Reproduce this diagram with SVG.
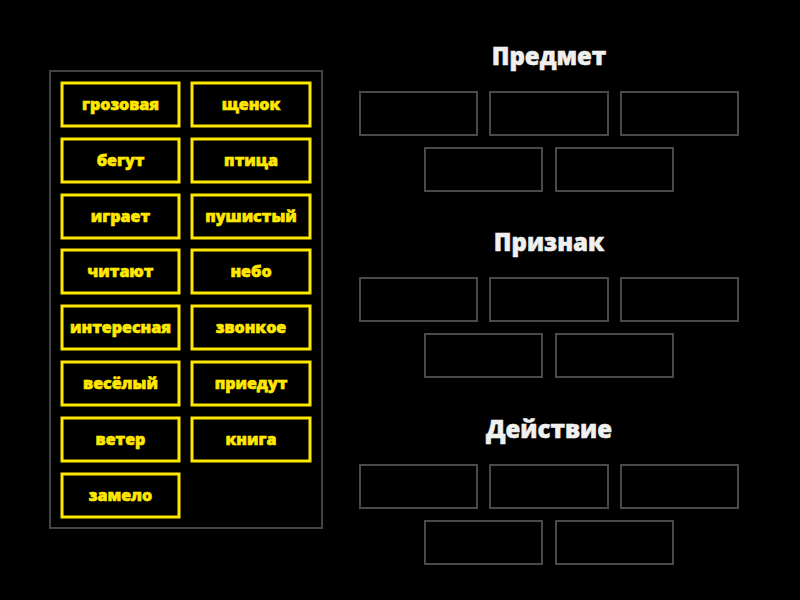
<svg xmlns="http://www.w3.org/2000/svg" width="800" height="600" viewBox="0 0 800 600">
<style>
.tile rect{fill:#000;stroke:#ffe800;stroke-width:3}
.tile text{fill:#ffe800;stroke:#ffe800;stroke-width:0.6;font-family:"Open Sans","DejaVu Sans",sans-serif;font-weight:800;font-size:16px;text-anchor:middle}
.slot{fill:#000;stroke:#4a4a4a;stroke-width:2}
.title{fill:#f0f0f0;stroke:#f0f0f0;stroke-width:0.5;font-family:"Open Sans","DejaVu Sans",sans-serif;font-weight:800;font-size:24px;text-anchor:middle}
</style>
<rect width="800" height="600" fill="#000"/>
<g id="panel"><rect x="50" y="71" width="272" height="457" fill="#000" stroke="#444" stroke-width="2"/></g>
<g id="tiles">
<g class="tile" id="t1"><rect x="62" y="83" width="117" height="43"/><text x="120.5" y="110">грозовая</text></g>
<g class="tile" id="t2"><rect x="192" y="83" width="118" height="43"/><text x="251" y="110">щенок</text></g>
<g class="tile" id="t3"><rect x="62" y="139" width="117" height="43"/><text x="120.5" y="166">бегут</text></g>
<g class="tile" id="t4"><rect x="192" y="139" width="118" height="43"/><text x="251" y="166">птица</text></g>
<g class="tile" id="t5"><rect x="62" y="195" width="117" height="43"/><text x="120.5" y="222">играет</text></g>
<g class="tile" id="t6"><rect x="192" y="195" width="118" height="43"/><text x="251" y="222">пушистый</text></g>
<g class="tile" id="t7"><rect x="62" y="250" width="117" height="43"/><text x="120.5" y="277">читают</text></g>
<g class="tile" id="t8"><rect x="192" y="250" width="118" height="43"/><text x="251" y="277">небо</text></g>
<g class="tile" id="t9"><rect x="62" y="306" width="117" height="43"/><text x="120.5" y="333">интересная</text></g>
<g class="tile" id="t10"><rect x="192" y="306" width="118" height="43"/><text x="251" y="333">звонкое</text></g>
<g class="tile" id="t11"><rect x="62" y="362" width="117" height="43"/><text x="120.5" y="389">весёлый</text></g>
<g class="tile" id="t12"><rect x="192" y="362" width="118" height="43"/><text x="251" y="389">приедут</text></g>
<g class="tile" id="t13"><rect x="62" y="418" width="117" height="43"/><text x="120.5" y="445">ветер</text></g>
<g class="tile" id="t14"><rect x="192" y="418" width="118" height="43"/><text x="251" y="445">книга</text></g>
<g class="tile" id="t15"><rect x="62" y="474" width="117" height="43"/><text x="120.5" y="501">замело</text></g>
</g>
<g id="group-predmet">
<text class="title" x="549" y="65">Предмет</text>
<rect class="slot" x="360" y="92" width="117" height="43"/>
<rect class="slot" x="490" y="92" width="118" height="43"/>
<rect class="slot" x="621" y="92" width="117" height="43"/>
<rect class="slot" x="425" y="148" width="117" height="43"/>
<rect class="slot" x="556" y="148" width="117" height="43"/>
</g>
<g id="group-priznak">
<text class="title" x="549" y="251">Признак</text>
<rect class="slot" x="360" y="278" width="117" height="43"/>
<rect class="slot" x="490" y="278" width="118" height="43"/>
<rect class="slot" x="621" y="278" width="117" height="43"/>
<rect class="slot" x="425" y="334" width="117" height="43"/>
<rect class="slot" x="556" y="334" width="117" height="43"/>
</g>
<g id="group-deystvie">
<text class="title" x="549" y="438">Действие</text>
<rect class="slot" x="360" y="465" width="117" height="43"/>
<rect class="slot" x="490" y="465" width="118" height="43"/>
<rect class="slot" x="621" y="465" width="117" height="43"/>
<rect class="slot" x="425" y="521" width="117" height="43"/>
<rect class="slot" x="556" y="521" width="117" height="43"/>
</g>
<g id="connectors"/>
</svg>
